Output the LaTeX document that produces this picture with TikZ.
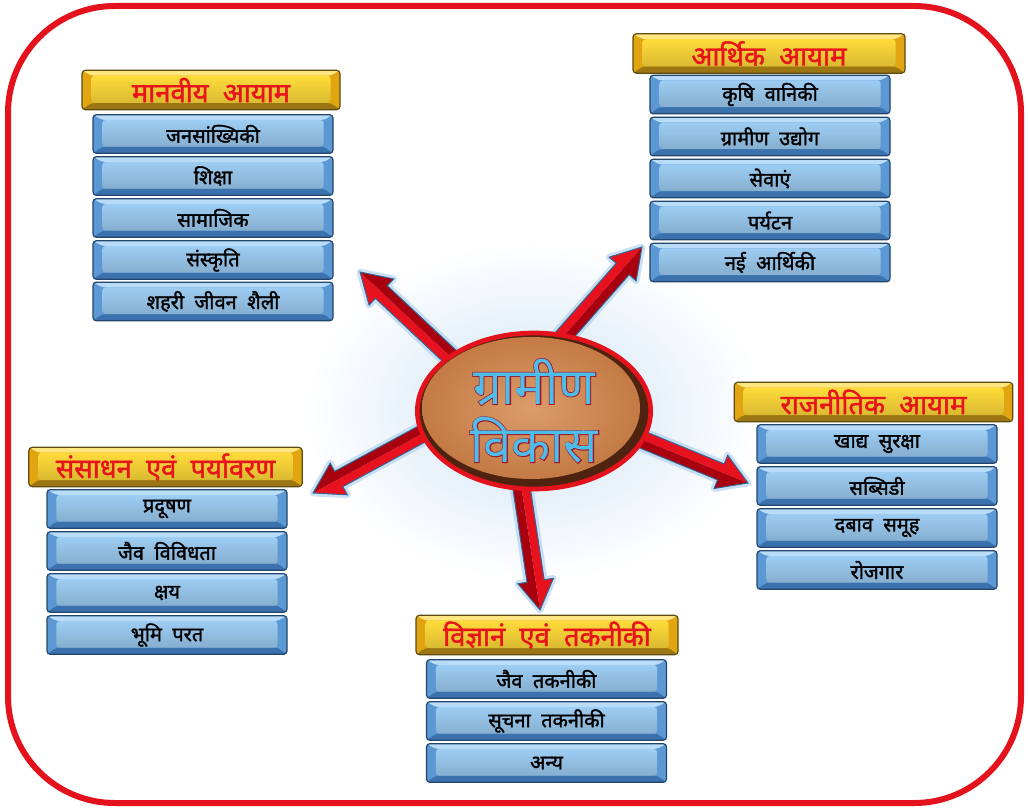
\documentclass[tikz,border=0pt]{standalone}
\usepackage{fontspec}
\usetikzlibrary{calc,shapes.geometric}
\newfontfamily\dev[Script=Devanagari]{Noto Sans}
\newfontfamily\devb[Script=Devanagari,FakeBold=1.6]{Noto Sans}
\newfontfamily\devfb[Script=Devanagari,FakeBold=3]{Noto Sans}
\definecolor{framered}{HTML}{E3121C}
\definecolor{itborder}{HTML}{23456E}
\definecolor{itside}{HTML}{5C98D4}
\definecolor{ittop}{HTML}{B9DDF8}
\definecolor{itbot}{HTML}{3B71AC}
\definecolor{itface1}{HTML}{9DCDF3}
\definecolor{hdborder}{HTML}{5E4B12}
\definecolor{hdside}{HTML}{E2A512}
\definecolor{hdtop}{HTML}{FFE680}
\definecolor{hdbot}{HTML}{9C7612}
\definecolor{hdface1}{HTML}{FFDB3A}
\definecolor{hdtext}{HTML}{E8141C}
\definecolor{arrlightc}{HTML}{E8121E}
\definecolor{arrdarkc}{HTML}{A8000E}
\definecolor{arredgec}{HTML}{2F6798}
\definecolor{glowc}{HTML}{A9CDEB}
\definecolor{ctrrim}{HTML}{4E2410}
\definecolor{ctrface1}{HTML}{DB9C6A}
\definecolor{ctrface2}{HTML}{C47A44}
\definecolor{ctrtext}{HTML}{4FBDEA}
\definecolor{ctroutline}{HTML}{A0142A}
\definecolor{bgglow}{HTML}{CFE3F4}
\tikzset{
  bevelbox/.style n args={5}{rectangle, rounded corners=2.5pt, inner sep=0pt,
    draw=#1, line width=0.9pt, fill=#2,
    path picture={
      \path (path picture bounding box.north west) coordinate (pnw)
            (path picture bounding box.north east) coordinate (pne)
            (path picture bounding box.south west) coordinate (psw)
            (path picture bounding box.south east) coordinate (pse);
      \fill[#3] (pnw) -- (pne) -- ($(pne)+(-7pt,-4pt)$) -- ($(pnw)+(7pt,-4pt)$) -- cycle;
      \fill[#4] (psw) -- (pse) -- ($(pse)+(-7pt,5pt)$) -- ($(psw)+(7pt,5pt)$) -- cycle;
      \shade[top color=#5,bottom color=#5!85!black] ($(pnw)+(7pt,-4pt)$) rectangle ($(pse)+(-7pt,5pt)$);
    }},
  itm/.style={bevelbox={itborder}{itside}{ittop}{itbot}{itface1},
    minimum width=180pt, minimum height=29pt, text=black,
    font=\devb\fontsize{15}{17}\selectfont},
  hdr/.style={bevelbox={hdborder}{hdside}{hdtop}{hdbot}{hdface1},
    minimum height=29.5pt, text=hdtext,
    font=\devb\fontsize{20.5}{22}\selectfont},
  arrglow/.style={draw=glowc, line width=5pt, line join=round, opacity=0.6},
  arrlight/.style={fill=arrlightc},
  arrdark/.style={fill=arrdarkc},
  arredge/.style={draw=arredgec, line width=0.7pt, line join=miter},
  framestyle/.style={draw=framered, line width=4.5pt, rounded corners=80pt},
  ctrtxt/.style={font=\dev\fontsize{38}{40}\selectfont, text=ctrtext, inner sep=0pt},
  ctrtxtb/.style={font=\devfb\fontsize{38}{40}\selectfont, text=ctroutline, inner sep=0pt},
}
\newcommand\redarrow[2]{%
  \coordinate (#1hb) at ($(#2)!22pt!(#1)$);
  \path ($(#1)!6.5pt!90:(#2)$) coordinate (#1a)
        ($(#1)!6.5pt!-90:(#2)$) coordinate (#1b)
        ($(#1hb)!6.5pt!90:(#2)$) coordinate (#1c)
        ($(#1hb)!6.5pt!-90:(#2)$) coordinate (#1d)
        ($(#1hb)!13.5pt!90:(#2)$) coordinate (#1e)
        ($(#1hb)!13.5pt!-90:(#2)$) coordinate (#1f);
  \draw[arrglow] (#1a) -- (#1c) -- (#1e) -- (#2) -- (#1f) -- (#1d) -- (#1b) -- cycle;
  \fill[arrlight] (#1a) -- (#1c) -- (#1e) -- (#2) -- (#1hb) -- (#1) -- cycle;
  \fill[arrdark] (#1b) -- (#1d) -- (#1f) -- (#2) -- (#1hb) -- (#1) -- cycle;
  \draw[arredge] (#1a) -- (#1c) -- (#1e) -- (#2) -- (#1f) -- (#1d) -- (#1b) -- cycle;
}
\begin{document}
\begin{tikzpicture}[x=0.75pt,y=-0.75pt]
\useasboundingbox (0,0) rectangle (1028,809);
\fill[white] (0,0) rectangle (1028,809);
% background glow
\shade[inner color=bgglow, outer color=white] (534,411) ellipse [x radius=230, y radius=170];

% arrows
\coordinate (s1) at (472,377); \coordinate (e1) at (360,272);
\coordinate (s2) at (555,346); \coordinate (e2) at (642,247);
\coordinate (s3) at (442,423); \coordinate (e3) at (313,493);
\coordinate (s4) at (626,433); \coordinate (e4) at (748,483);
\coordinate (s5) at (520,478); \coordinate (e5) at (540,610);
\redarrow{s1}{e1}
\redarrow{s2}{e2}
\redarrow{s3}{e3}
\redarrow{s4}{e4}
\redarrow{s5}{e5}

% centre
\node[ellipse, draw=framered, line width=3.5pt, fill=ctrrim,
      minimum width=175pt, minimum height=117pt] (ctr) at (534,411) {};
\shade[inner color=ctrface1, outer color=ctrface2] (531,408) ellipse [x radius=109, y radius=71];
\node[ctrtxtb] (g1b) at (534,382) {ग्रामीण};
\node[ctrtxt]  (g1)  at (534,382) {ग्रामीण};
\node[ctrtxtb] (g2b) at (534,440) {विकास};
\node[ctrtxt]  (g2)  at (534,440) {विकास};

% group 1
\node[hdr, minimum width=193.5pt] (h1) at (211,90) {मानवीय\ \ आयाम};
\node[itm] (a1) at (213,134) {जनसांख्यिकी};
\node[itm] (a2) at (213,176) {शिक्षा};
\node[itm] (a3) at (213,218) {सामाजिक};
\node[itm] (a4) at (213,260) {संस्कृति};
\node[itm] (a5) at (213,301.5) {शहरी\ \ जीवन\ \ शैली};

% group 2
\node[hdr, minimum width=204pt] (h2) at (769,53.5) {आर्थिक\ \ आयाम};
\node[itm] (b1) at (770,94.5) {कृषि\ \ वानिकी};
\node[itm] (b2) at (770,136.5) {ग्रामीण\ \ उद्योग};
\node[itm] (b3) at (770,178.5) {सेवाएं};
\node[itm] (b4) at (770,220.5) {पर्यटन};
\node[itm] (b5) at (770,262.5) {नई\ \ आर्थिकी};

% group 3
\node[hdr, minimum width=205pt] (h3) at (165.5,467) {संसाधन\ \ एवं\ \ पर्यावरण};
\node[itm] (c1) at (167,509) {प्रदूषण};
\node[itm] (c2) at (167,551) {जैव\ \ विविधता};
\node[itm] (c3) at (167,593) {क्षय};
\node[itm] (c4) at (167,635) {भूमि\ \ परत};

% group 4
\node[hdr, minimum width=209pt] (h4) at (873.5,402) {राजनीतिक\ \ आयाम};
\node[itm] (d1) at (877,444) {खाद्य\ \ सुरक्षा};
\node[itm] (d2) at (877,486) {सब्सिडी};
\node[itm] (d3) at (877,528) {दबाव\ \ समूह};
\node[itm] (d4) at (877,570) {रोजगार};

% group 5
\node[hdr, minimum width=196.5pt] (h5) at (547,635) {विज्ञानं\ \ एवं\ \ तकनीकी};
\node[itm] (f1) at (546.5,679) {जैव\ \ तकनीकी};
\node[itm] (f2) at (546.5,721) {सूचना\ \ तकनीकी};
\node[itm] (f3) at (546.5,763) {अन्य};

% frame
\draw[framestyle] (8,6) rectangle (1021,803);
\end{tikzpicture}
\end{document}
